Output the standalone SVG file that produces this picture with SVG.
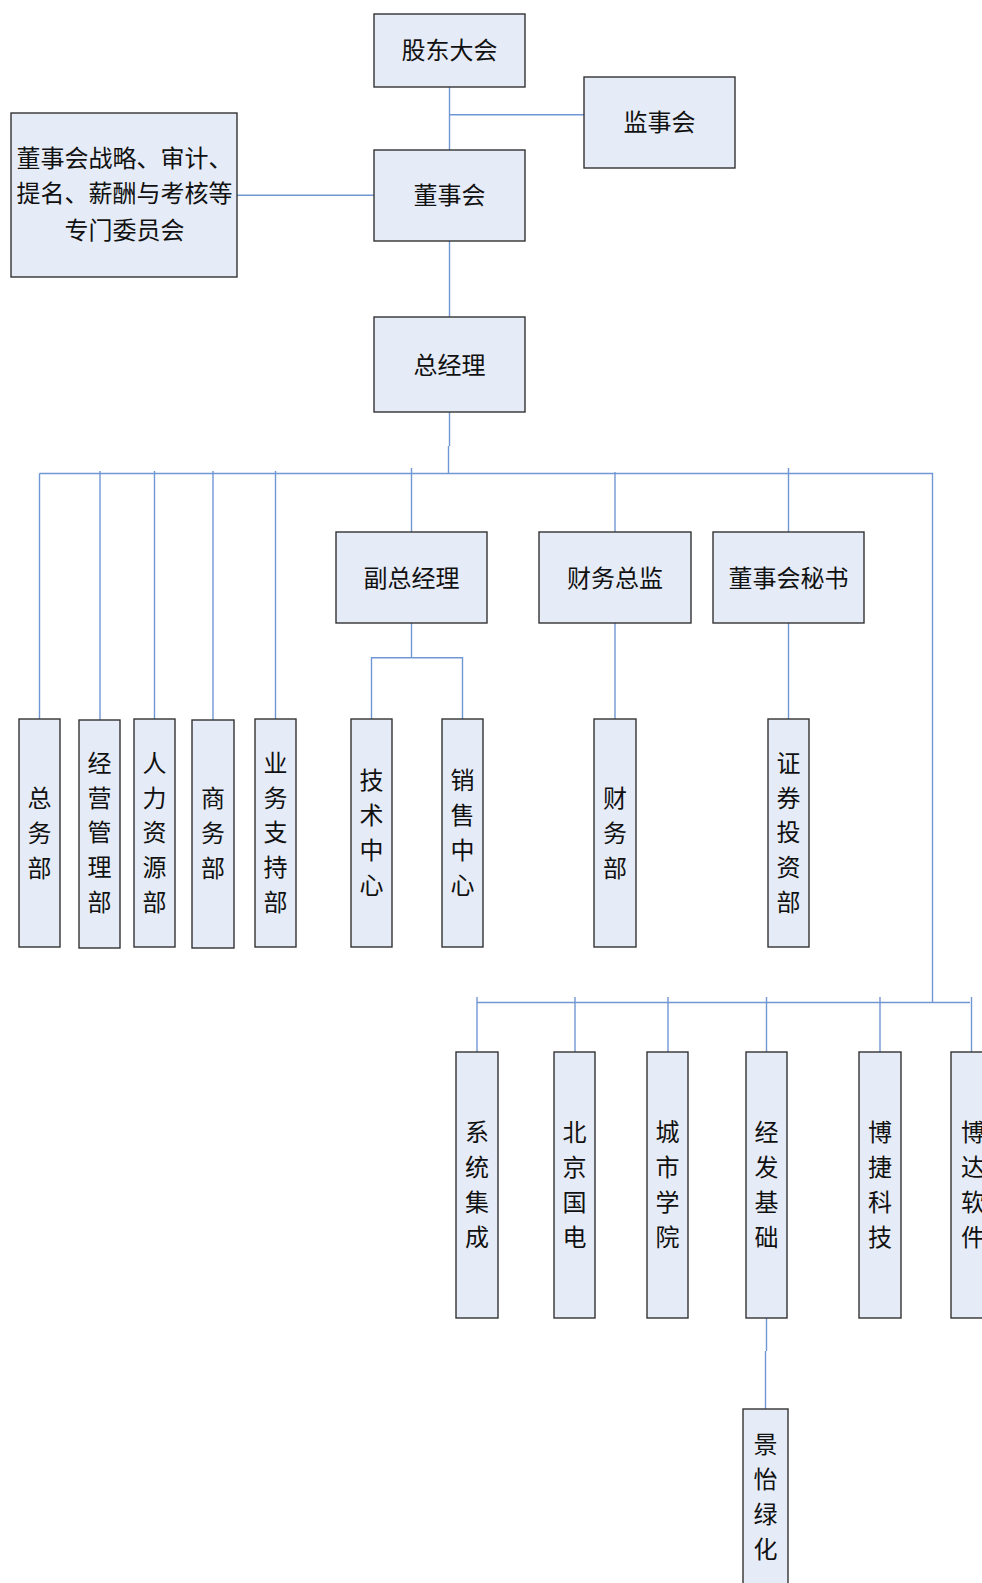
<svg xmlns="http://www.w3.org/2000/svg" width="982" height="1583" viewBox="0 0 982 1583">
<style>
.b{fill:#E6ECF7;stroke:#333333;stroke-width:1.4}
.t{font-family:"Noto Sans CJK SC","Noto Sans",sans-serif;font-size:24px;fill:#111111;text-anchor:middle;dominant-baseline:central;transform:translateY(-1.5px)}
.c{fill:none;stroke:#7196D4;stroke-width:1.4}
</style>
<rect width="982" height="1583" fill="#FFFFFF"/>
<g id="connectors" class="c">
<path d="M449.5,87 V150"/>
<path d="M449.5,114.7 H584"/>
<path d="M237,195.3 H374"/>
<path d="M449.5,241 V317"/>
<path d="M449.5,412 V446 M448.5,446 V473.5"/>
<path d="M39.5,473.5 H932.5 V1002.5"/>
<path d="M39.5,473.5 V719"/>
<path d="M100,471 V720"/>
<path d="M154.5,471 V719"/>
<path d="M213,471 V720"/>
<path d="M275.5,471 V719"/>
<path d="M411.5,468 V532"/>
<path d="M615,472 V532"/>
<path d="M788.5,468 V532"/>
<path d="M411.5,623 V657.7 M371.5,719 V657.7 H462.5 V719"/>
<path d="M615,623 V719"/>
<path d="M788.5,623 V719"/>
<path d="M477,1002.5 H970"/>
<path d="M477,997 V1052"/>
<path d="M575,997 V1052"/>
<path d="M668,997 V1052"/>
<path d="M766.5,997 V1052"/>
<path d="M880,997 V1052"/>
<path d="M971.5,997 V1052"/>
<path d="M766.5,1318 V1351 M765.5,1351 V1409"/>
</g>
<g id="n-gudong"><rect class="b" x="374" y="14" width="151" height="73"/><text class="t" x="449.5" y="50">股东大会</text></g>
<g id="n-jianshi"><rect class="b" x="584" y="77" width="151" height="91"/><text class="t" x="659.5" y="122">监事会</text></g>
<g id="n-dongshi"><rect class="b" x="374" y="150" width="151" height="91"/><text class="t" x="449.5" y="195">董事会</text></g>
<g id="n-committee"><rect class="b" x="11" y="113" width="226" height="164"/><text class="t" x="124.5" y="157.5">董事会战略、审计、</text><text class="t" x="124.5" y="193">提名、薪酬与考核等</text><text class="t" x="124.5" y="230">专门委员会</text></g>
<g id="n-zongjingli"><rect class="b" x="374" y="317" width="151" height="95"/><text class="t" x="449.5" y="364.5">总经理</text></g>
<g id="n-fuzong"><rect class="b" x="336" y="532" width="151" height="91"/><text class="t" x="411.5" y="577.5">副总经理</text></g>
<g id="n-caiwuzongjian"><rect class="b" x="539" y="532" width="152" height="91"/><text class="t" x="615" y="577.5">财务总监</text></g>
<g id="n-mishu"><rect class="b" x="713" y="532" width="151" height="91"/><text class="t" x="788.5" y="577.5">董事会秘书</text></g>
<g id="n-zongwu"><rect class="b" x="19" y="719" width="41" height="228"/><text class="t"><tspan x="39.5" y="797">总</tspan><tspan x="39.5" y="832">务</tspan><tspan x="39.5" y="867">部</tspan></text></g>
<g id="n-jingying"><rect class="b" x="79" y="720" width="41" height="228"/><text class="t"><tspan x="99.5" y="762">经</tspan><tspan x="99.5" y="797">营</tspan><tspan x="99.5" y="831">管</tspan><tspan x="99.5" y="866">理</tspan><tspan x="99.5" y="901">部</tspan></text></g>
<g id="n-renli"><rect class="b" x="134" y="719" width="41" height="228"/><text class="t"><tspan x="154.5" y="762">人</tspan><tspan x="154.5" y="797">力</tspan><tspan x="154.5" y="831">资</tspan><tspan x="154.5" y="866">源</tspan><tspan x="154.5" y="901">部</tspan></text></g>
<g id="n-shangwu"><rect class="b" x="192" y="720" width="42" height="228"/><text class="t"><tspan x="213" y="797">商</tspan><tspan x="213" y="832">务</tspan><tspan x="213" y="867">部</tspan></text></g>
<g id="n-yewu"><rect class="b" x="255" y="719" width="41" height="228"/><text class="t"><tspan x="275.5" y="762">业</tspan><tspan x="275.5" y="797">务</tspan><tspan x="275.5" y="831">支</tspan><tspan x="275.5" y="866">持</tspan><tspan x="275.5" y="901">部</tspan></text></g>
<g id="n-jishu"><rect class="b" x="351" y="719" width="41" height="228"/><text class="t"><tspan x="371.5" y="779">技</tspan><tspan x="371.5" y="814">术</tspan><tspan x="371.5" y="849">中</tspan><tspan x="371.5" y="884">心</tspan></text></g>
<g id="n-xiaoshou"><rect class="b" x="442" y="719" width="41" height="228"/><text class="t"><tspan x="462.5" y="779">销</tspan><tspan x="462.5" y="814">售</tspan><tspan x="462.5" y="849">中</tspan><tspan x="462.5" y="884">心</tspan></text></g>
<g id="n-caiwubu"><rect class="b" x="594" y="719" width="42" height="228"/><text class="t"><tspan x="615" y="797">财</tspan><tspan x="615" y="832">务</tspan><tspan x="615" y="867">部</tspan></text></g>
<g id="n-zhengquan"><rect class="b" x="768" y="719" width="41" height="228"/><text class="t"><tspan x="788.5" y="762">证</tspan><tspan x="788.5" y="797">券</tspan><tspan x="788.5" y="831">投</tspan><tspan x="788.5" y="866">资</tspan><tspan x="788.5" y="901">部</tspan></text></g>
<g id="n-xitong"><rect class="b" x="456" y="1052" width="42" height="266"/><text class="t"><tspan x="477" y="1131">系</tspan><tspan x="477" y="1166">统</tspan><tspan x="477" y="1201">集</tspan><tspan x="477" y="1236">成</tspan></text></g>
<g id="n-beijing"><rect class="b" x="554" y="1052" width="41" height="266"/><text class="t"><tspan x="574.5" y="1131">北</tspan><tspan x="574.5" y="1166">京</tspan><tspan x="574.5" y="1201">国</tspan><tspan x="574.5" y="1236">电</tspan></text></g>
<g id="n-chengshi"><rect class="b" x="647" y="1052" width="41" height="266"/><text class="t"><tspan x="667.5" y="1131">城</tspan><tspan x="667.5" y="1166">市</tspan><tspan x="667.5" y="1201">学</tspan><tspan x="667.5" y="1236">院</tspan></text></g>
<g id="n-jingfa"><rect class="b" x="746" y="1052" width="41" height="266"/><text class="t"><tspan x="766.5" y="1131">经</tspan><tspan x="766.5" y="1166">发</tspan><tspan x="766.5" y="1201">基</tspan><tspan x="766.5" y="1236">础</tspan></text></g>
<g id="n-bojie"><rect class="b" x="859" y="1052" width="42" height="266"/><text class="t"><tspan x="880" y="1131">博</tspan><tspan x="880" y="1166">捷</tspan><tspan x="880" y="1201">科</tspan><tspan x="880" y="1236">技</tspan></text></g>
<g id="n-boda"><rect class="b" x="951" y="1052" width="42" height="266"/><text class="t"><tspan x="973" y="1131">博</tspan><tspan x="973" y="1166">达</tspan><tspan x="973" y="1201">软</tspan><tspan x="973" y="1236">件</tspan></text></g>
<g id="n-jingyi"><rect class="b" x="743" y="1409" width="45" height="200"/><text class="t"><tspan x="765.5" y="1443">景</tspan><tspan x="765.5" y="1478">怡</tspan><tspan x="765.5" y="1513">绿</tspan><tspan x="765.5" y="1548">化</tspan></text></g>
</svg>
